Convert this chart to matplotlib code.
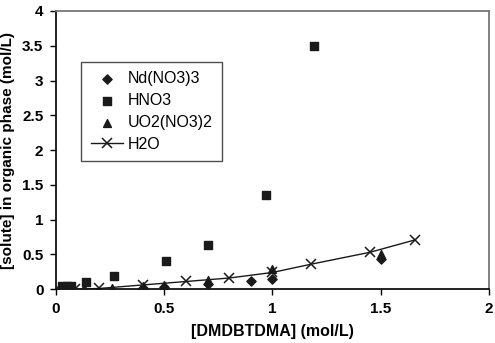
import matplotlib
matplotlib.use("Agg")
import matplotlib.pyplot as plt

############################################################
# Data
############################################################

nd_x = [0.40, 0.50, 0.70, 0.90, 1.00, 1.50]
nd_y = [0.02, 0.03, 0.07, 0.12, 0.14, 0.44]

hno3_x = [0.03, 0.05, 0.07, 0.14, 0.27, 0.51, 0.70, 0.97, 1.19]
hno3_y = [0.04, 0.04, 0.05, 0.10, 0.19, 0.41, 0.64, 1.35, 3.50]

uo2_x = [0.05, 0.13, 0.26, 0.40, 0.50, 0.70, 1.00, 1.50]
uo2_y = [0.02, 0.02, 0.02, 0.04, 0.06, 0.13, 0.29, 0.51]

h2o_x = [0.00, 0.09, 0.20, 0.40, 0.60, 0.80, 1.00, 1.18, 1.45, 1.66]
h2o_y = [0.00, 0.00, 0.01, 0.06, 0.11, 0.16, 0.24, 0.36, 0.53, 0.71]

############################################################
# Plot
############################################################

plt.rcParams["font.family"] = ["Liberation Sans", "DejaVu Sans"]

fig = plt.figure(figsize=(4.95, 3.43), dpi=100)
ax = fig.add_axes([0.113, 0.157, 0.875, 0.811])

ax.scatter(nd_x, nd_y, marker="D", s=22, color="#1a1a1a", label="Nd(NO3)3", zorder=3)
ax.scatter(hno3_x, hno3_y, marker="s", s=28, color="#1a1a1a", label="HNO3", zorder=3)
ax.scatter(uo2_x, uo2_y, marker="^", s=32, color="#1a1a1a", label="UO2(NO3)2", zorder=3)
ax.plot(h2o_x, h2o_y, marker="x", ms=7, mew=1.1, color="#1a1a1a", lw=1.0, label="H2O", zorder=2)

ax.set_xlim(0, 2)
ax.set_ylim(0, 4)
ax.set_xticks([0, 0.5, 1, 1.5, 2])
ax.set_xticklabels(["0", "0.5", "1", "1.5", "2"])
ax.set_yticks([0, 0.5, 1, 1.5, 2, 2.5, 3, 3.5, 4])
ax.set_yticklabels(["0", "0.5", "1", "1.5", "2", "2.5", "3", "3.5", "4"])

ax.tick_params(direction="out", length=4, width=1, labelsize=11, pad=5)
for lab in ax.get_xticklabels() + ax.get_yticklabels():
    lab.set_fontweight("bold")

ax.set_xlabel("[DMDBTDMA] (mol/L)", fontsize=11.5, fontweight="bold", labelpad=6)
ax.set_ylabel("[solute] in organic phase (mol/L)", fontsize=11, fontweight="bold", labelpad=5)

ax.spines["left"].set_color("#111111")
ax.spines["bottom"].set_color("#111111")
ax.spines["top"].set_color("#777777")
ax.spines["right"].set_color("#777777")
for s in ax.spines.values():
    s.set_linewidth(1.3)

leg = ax.legend(
    loc="upper left",
    bbox_to_anchor=(0.058, 0.817),
    borderaxespad=0,
    fontsize=11.5,
    frameon=True,
    fancybox=False,
    borderpad=0.6,
    labelspacing=0.42,
    handlelength=2.0,
    handletextpad=0.3,
)
leg.get_frame().set_edgecolor("#222222")
leg.get_frame().set_linewidth(1.0)

fig.savefig("out.png", dpi=100)
